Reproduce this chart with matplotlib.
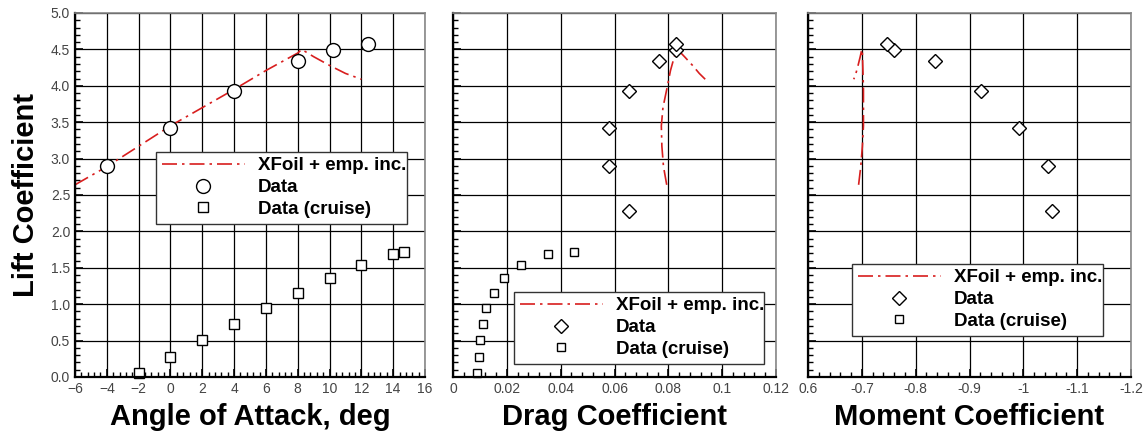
import matplotlib
matplotlib.use("Agg")
import matplotlib.pyplot as plt
from matplotlib.ticker import MultipleLocator

plt.rcParams['font.family'] = ['Liberation Sans', 'DejaVu Sans']

# XFoil + empirical increment polar
xf_alpha = [-6, -4, -2, 0, 2, 4, 6, 8, 8.25, 9, 10, 11, 12]
xf_cl = [2.64, 2.89, 3.17, 3.45, 3.70, 3.95, 4.21, 4.45, 4.50, 4.40, 4.28, 4.17, 4.09]
xf_cd = [0.0794, 0.0782, 0.0776, 0.0774, 0.0780, 0.0794, 0.0808, 0.0826, 0.0834, 0.0860, 0.0890, 0.0915, 0.0937]
xf_cm = [-0.694, -0.698, -0.701, -0.703, -0.703, -0.703, -0.702, -0.701, -0.700, -0.697, -0.693, -0.689, -0.685]

# measured data (high lift)
d_alpha = [-8, -4, 0, 4, 8, 10.2, 12.4]
d_cl = [2.28, 2.90, 3.42, 3.93, 4.34, 4.49, 4.57]
d_cd = [0.0653, 0.0581, 0.0581, 0.0655, 0.0767, 0.0827, 0.0829]
d_cm = [-1.053, -1.046, -0.992, -0.921, -0.836, -0.760, -0.747]

# measured data (cruise)
c_alpha = [-2, 0, 2, 4, 6, 8, 10, 12, 14, 14.7]
c_cl = [0.06, 0.27, 0.51, 0.73, 0.95, 1.16, 1.36, 1.54, 1.69, 1.72]
c_cd = [0.0090, 0.0097, 0.0100, 0.0113, 0.0124, 0.0151, 0.0188, 0.0253, 0.0353, 0.0451]

red = '#d81e1e'
dashdot = (0, (9, 3, 1.5, 3))
W, H = 1148, 434

fig = plt.figure(figsize=(W / 100, H / 100), dpi=100)

def make_axes(left_px, width_px):
    ax = fig.add_axes([left_px / W, 1 - 377 / H, width_px / W, 364 / H])
    ax.set_ylim(0, 5)
    ax.yaxis.set_major_locator(MultipleLocator(0.5))
    ax.yaxis.set_minor_locator(MultipleLocator(0.1))
    ax.grid(True, which='major', color='black', linewidth=0.9)
    ax.set_axisbelow(True)
    ax.tick_params(which='both', direction='in', top=False, right=False,
                   labelsize=10, labelcolor='#444444', color='black')
    ax.tick_params(which='major', length=6, width=1.2)
    ax.tick_params(which='minor', length=3.5, width=1)
    for s in ['left', 'bottom']:
        ax.spines[s].set_linewidth(1.6)
    for s in ['top', 'right']:
        ax.spines[s].set_color('#888888')
        ax.spines[s].set_linewidth(1.2)
    return ax

def add_legend(ax, h, bbox):
    leg = ax.legend(handles=h, labels=['XFoil + emp. inc.', 'Data', 'Data (cruise)'],
                    loc='lower left', bbox_to_anchor=bbox, bbox_transform=fig.transFigure,
                    mode='expand', fancybox=False, framealpha=1, edgecolor='#333333',
                    prop={'weight': 'bold', 'size': 13.5}, handlelength=4.4,
                    labelspacing=0.25, borderpad=0.3, handletextpad=0.7)
    leg.get_frame().set_linewidth(1.0)

# Panel 1: lift curve
ax1 = make_axes(75, 350)
ax1.set_xlim(-6, 16)
ax1.xaxis.set_major_locator(MultipleLocator(2))
ax1.xaxis.set_minor_locator(MultipleLocator(0.4))
l1, = ax1.plot(xf_alpha, xf_cl, color=red, linestyle=dashdot, linewidth=1.2)
p1, = ax1.plot(d_alpha, d_cl, 'o', mfc='white', mec='black', ms=10, mew=1.0)
s1, = ax1.plot(c_alpha, c_cl, 's', mfc='white', mec='black', ms=7, mew=1.0, clip_on=False)
ax1.set_xlabel('Angle of Attack, deg', fontsize=21, fontweight='bold', labelpad=5)
ax1.set_ylabel('Lift Coefficient', fontsize=21, fontweight='bold', labelpad=8)
add_legend(ax1, [l1, p1, s1], (147 / W, 1 - 233 / H, 269 / W, 83 / H))

# Panel 2: drag polar
ax2 = make_axes(453, 323)
ax2.set_xlim(0, 0.12)
ax2.xaxis.set_major_locator(MultipleLocator(0.02))
ax2.xaxis.set_minor_locator(MultipleLocator(0.004))
ax2.xaxis.set_major_formatter(matplotlib.ticker.FuncFormatter(lambda v, p: '%g' % round(v, 3)))
ax2.tick_params(labelleft=False)
l2, = ax2.plot(xf_cd, xf_cl, color=red, linestyle=dashdot, linewidth=1.2)
p2, = ax2.plot(d_cd, d_cl, 'D', mfc='white', mec='black', ms=7, mew=1.0)
s2, = ax2.plot(c_cd, c_cl, 's', mfc='white', mec='black', ms=5.5, mew=1.0, clip_on=False)
ax2.set_xlabel('Drag Coefficient', fontsize=21, fontweight='bold', labelpad=5)
add_legend(ax2, [l2, p2, s2], (505 / W, 1 - 373 / H, 268 / W, 83 / H))

# Panel 3: moment
ax3 = make_axes(808, 323)
ax3.set_xlim(-0.6, -1.2)
ax3.xaxis.set_major_locator(MultipleLocator(0.1))
ax3.xaxis.set_minor_locator(MultipleLocator(0.02))
ax3.xaxis.set_major_formatter(matplotlib.ticker.FuncFormatter(
    lambda v, p: '0.6' if abs(v + 0.6) < 1e-6 else '%g' % round(v, 2)))
ax3.tick_params(labelleft=False)
l3, = ax3.plot(xf_cm, xf_cl, color=red, linestyle=dashdot, linewidth=1.2)
p3, = ax3.plot(d_cm, d_cl, 'D', mfc='white', mec='black', ms=7, mew=1.0)
s3, = ax3.plot([], [], 's', mfc='white', mec='black', ms=5.5, mew=1.0)
ax3.set_xlabel('Moment Coefficient', fontsize=21, fontweight='bold', labelpad=5)
add_legend(ax3, [l3, p3, s3], (843 / W, 1 - 345 / H, 269 / W, 84 / H))

fig.savefig('out.png', dpi=100)
